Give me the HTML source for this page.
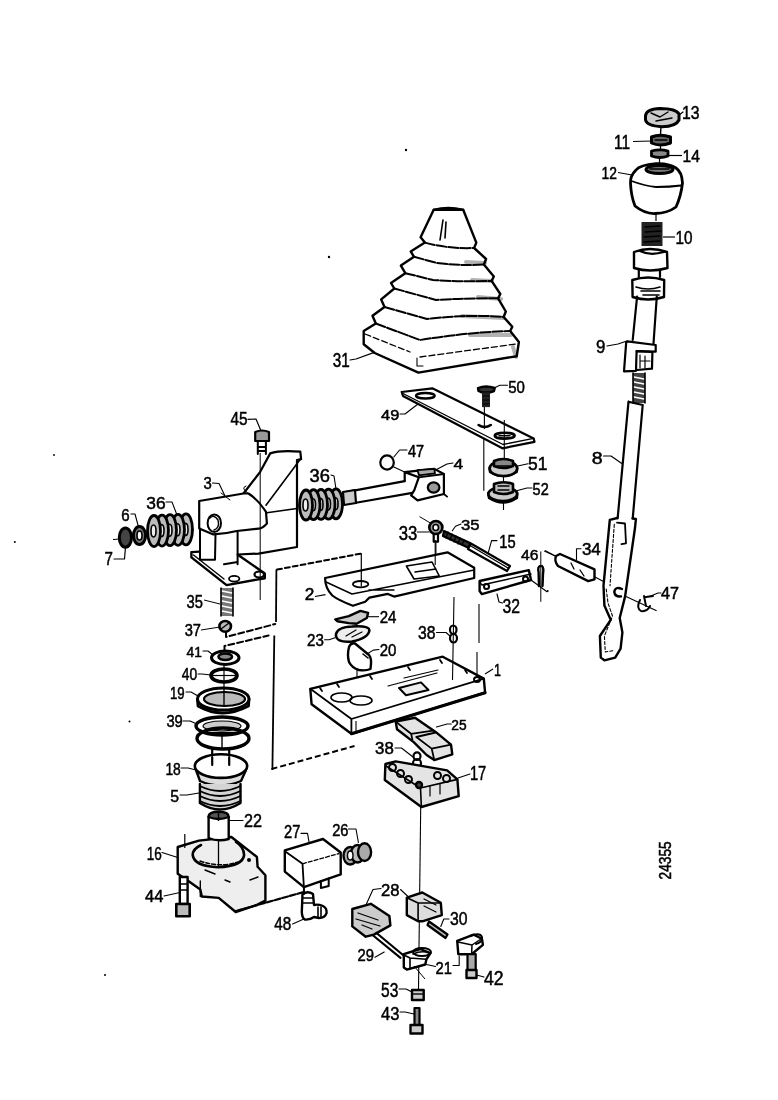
<!DOCTYPE html>
<html><head><meta charset="utf-8"><style>
html,body{margin:0;padding:0;background:#fff;}
svg{display:block;will-change:transform;}
text{font-family:"Liberation Sans",sans-serif;font-weight:normal;fill:#000;stroke:#000;stroke-width:0.5px;}
</style></head><body>
<svg width="778" height="1100" viewBox="0 0 778 1100">
<rect width="778" height="1100" fill="#fff"/>
<path d="M645.5,116 Q646,109 660,108.5 Q676,108.5 679,114 L679,120 Q676,126.5 662,126.7 Q647,126 645.5,120 Z" fill="#ccc" stroke="#000" stroke-width="3" stroke-linejoin="round" stroke-linecap="round" />
<path d="M651,113 L660,117 L668,112 M656,121 L672,118" fill="none" stroke="#000" stroke-width="1.4" stroke-linejoin="round" stroke-linecap="round" />
<text x="682.0" y="119.0" font-size="17.8" textLength="17.5" lengthAdjust="spacingAndGlyphs">13</text>
<path d="M679,115 L683,112" fill="none" stroke="#000" stroke-width="1.2" stroke-linejoin="round" stroke-linecap="round" />
<line x1="661" y1="126" x2="660.5" y2="135" stroke="#000" stroke-width="1.4"/>
<path d="M651.5,137 Q660,133.5 670.5,137 L670.5,143 Q660,147 651.5,143 Z" fill="#666" stroke="#000" stroke-width="3" stroke-linejoin="round" stroke-linecap="round" />
<path d="M655,140 L667,140" fill="none" stroke="#000" stroke-width="1.4" stroke-linejoin="round" stroke-linecap="round" stroke="#fff"/>
<text x="614.0" y="149.4" font-size="19.3" textLength="16.0" lengthAdjust="spacingAndGlyphs">11</text>
<line x1="633" y1="141.5" x2="652" y2="141" stroke="#000" stroke-width="1.2"/>
<line x1="660.5" y1="145.5" x2="660.5" y2="150" stroke="#000" stroke-width="1.2"/>
<path d="M651.5,151 Q660,148.8 668,151 L668,156 Q660,159 651.5,156 Z" fill="#888" stroke="#000" stroke-width="2.8" stroke-linejoin="round" stroke-linecap="round" />
<text x="682.6" y="162.2" font-size="17.1" textLength="17.4" lengthAdjust="spacingAndGlyphs">14</text>
<line x1="668" y1="155.5" x2="682" y2="155.5" stroke="#000" stroke-width="1.2"/>
<line x1="659.5" y1="158" x2="659.5" y2="164" stroke="#000" stroke-width="1.2"/>
<path d="M656,163.7 Q640,165 636,170 Q630,176 630.5,183 Q631,196 635,206 Q645,214 655,213.5 Q668,213 676,207 Q681,196 682.5,183 Q682,172 676,168 Q668,163 656,163.7 Z" fill="#fff" stroke="#000" stroke-width="2.8" stroke-linejoin="round" stroke-linecap="round" />
<path d="M631.5,181 Q645,186 656,187 Q670,187 681,185.5" fill="none" stroke="#000" stroke-width="1.8" stroke-linejoin="round" stroke-linecap="round" />
<ellipse cx="659.5" cy="169.5" rx="13.5" ry="4.0" fill="#777" stroke="#000" stroke-width="3"/>
<path d="M650,169 L669,169" fill="none" stroke="#000" stroke-width="1.5" stroke-linejoin="round" stroke-linecap="round" stroke="#fff"/>
<text x="601.6" y="178.7" font-size="17.1" textLength="15.4" lengthAdjust="spacingAndGlyphs">12</text>
<line x1="618" y1="172.5" x2="632" y2="175" stroke="#000" stroke-width="1.2"/>
<line x1="656" y1="213" x2="656" y2="221" stroke="#000" stroke-width="1.2"/>
<rect x="641.5" y="222" width="21" height="24" fill="#222"/>
<path d="M645,227 L660,226 M645,232 L661,231 M644,237 L660,236 M644,242 L660,241" fill="none" stroke="#000" stroke-width="1.4" stroke-linejoin="round" stroke-linecap="round" stroke="#fff"/>
<text x="675.6" y="244.0" font-size="18.1" textLength="17.0" lengthAdjust="spacingAndGlyphs">10</text>
<line x1="663" y1="237" x2="675" y2="237" stroke="#000" stroke-width="1.2"/>
<path d="M634,252 Q650,246 667,252 L667.5,268 Q650,273 634,268 Z" fill="#fff" stroke="#000" stroke-width="2.4" stroke-linejoin="round" stroke-linecap="round" />
<path d="M640,251 Q650,256 664,252" fill="none" stroke="#000" stroke-width="2.2" stroke-linejoin="round" stroke-linecap="round" />
<path d="M638.8,270.6 L638.8,277 M660,270.6 L660,277" fill="none" stroke="#000" stroke-width="2.2" stroke-linejoin="round" stroke-linecap="round" />
<path d="M632.3,280 Q648,275 664.2,280 L664,297 Q648,302 632.6,297 Z" fill="#fff" stroke="#000" stroke-width="2.4" stroke-linejoin="round" stroke-linecap="round" />
<path d="M636,287 Q648,291 660,287 M641,291 L660,291 M643,295 L659,295" fill="none" stroke="#000" stroke-width="1.6" stroke-linejoin="round" stroke-linecap="round" />
<path d="M637.1,296.5 L632.7,340 M656.8,296.5 L653.5,343.5" fill="none" stroke="#000" stroke-width="2.2" stroke-linejoin="round" stroke-linecap="round" />
<path d="M627.3,341.3 L655.7,345 L655.7,351.7 L636.6,351.1 M627.3,341.3 L626.2,342.4" fill="none" stroke="#000" stroke-width="2.2" stroke-linejoin="round" stroke-linecap="round" />
<path d="M626.2,342.4 L624,371.3 L636,370.8 L636.6,351.1 M636.6,351.1 L652.4,352 L652,368.6 L637,370" fill="none" stroke="#000" stroke-width="2.2" stroke-linejoin="round" stroke-linecap="round" />
<path d="M640,355 L640,368 M645,356 L645,368 M640,361 L650,361" fill="none" stroke="#000" stroke-width="1.2" stroke-linejoin="round" stroke-linecap="round" />
<text x="596.0" y="353.0" font-size="18.1" textLength="9.4" lengthAdjust="spacingAndGlyphs">9</text>
<path d="M607,346 L618,344 L627,341" fill="none" stroke="#000" stroke-width="1.2" stroke-linejoin="round" stroke-linecap="round" />
<rect x="633" y="373" width="12" height="30" fill="#444"/>
<path d="M634,377 L644,379 M634,382 L644,384 M634,387 L644,389 M634,392 L644,394 M634,397 L644,399" fill="none" stroke="#fff" stroke-width="1.5" stroke-opacity="1" stroke-linecap="round"/>
<path d="M633,373 L633,403 M645,373 L645,403" fill="none" stroke="#000" stroke-width="1.6" stroke-linejoin="round" stroke-linecap="round" />
<path d="M628.5,401.7 L617.6,518.7 M642.7,405 L632.7,518.7 M628.5,401.7 L642.7,405" fill="none" stroke="#000" stroke-width="2.2" stroke-linejoin="round" stroke-linecap="round" />
<text x="591.7" y="463.5" font-size="17.4" textLength="10.9" lengthAdjust="spacingAndGlyphs">8</text>
<path d="M603.5,456 L611,456 L621.8,463.5" fill="none" stroke="#000" stroke-width="1.2" stroke-linejoin="round" stroke-linecap="round" />
<path d="M609.8,519.9 L603.5,585.6 L604.4,605.4 L610.7,619.8 L599.9,636 L600.8,657.6 L604.4,660.3 L615.2,657.6 L620.6,648.6 L622.4,632.4 L619.7,618 L625.1,596.4 L635,528 L635.9,519 L632.5,518.5 M609.8,519.9 L617.2,518" fill="#fff" stroke="#000" stroke-width="2.4" stroke-linejoin="round" stroke-linecap="round" />
<path d="M617,522.6 L625,523.5 L626,543.3 L621.5,544.2" fill="none" stroke="#000" stroke-width="1.8" stroke-linejoin="round" stroke-linecap="round" />
<path d="M614.3,524.4 L610,585.6 M606.2,589 L608,603 L612.5,616 L604.4,636 L605.3,652 L614.3,650.4" fill="none" stroke="#000" stroke-width="1.1" stroke-linejoin="round" stroke-linecap="round" stroke-dasharray="3,2"/>
<path d="M622,589 Q615,586 614.3,592 Q615,597 621,596.4" fill="none" stroke="#000" stroke-width="2.4" stroke-linejoin="round" stroke-linecap="round" />
<line x1="545" y1="550.5" x2="604.4" y2="582" stroke="#000" stroke-width="1.1"/>
<line x1="626" y1="596.4" x2="656.6" y2="610.8" stroke="#000" stroke-width="1.1"/>
<path d="M640,600 Q636,608 641,611 Q647,612 650,606 M644,596 L646,606 M646,597 L653,596" fill="none" stroke="#000" stroke-width="2" stroke-linejoin="round" stroke-linecap="round" />
<text x="661.0" y="599.0" font-size="16.1" textLength="18.0" lengthAdjust="spacingAndGlyphs">47</text>
<path d="M649.5,596.4 L658,593 L661,593" fill="none" stroke="#000" stroke-width="1.1" stroke-linejoin="round" stroke-linecap="round" />
<path d="M560,554 L594.5,569.4 L594.5,579.3 L588.2,581.1 L558,566 Q554,561 556,556 Z" fill="#fff" stroke="#000" stroke-width="2.4" stroke-linejoin="round" stroke-linecap="round" />
<path d="M580,570 L584,576 M571,563 L574,569" fill="none" stroke="#000" stroke-width="1.3" stroke-linejoin="round" stroke-linecap="round" />
<text x="581.9" y="555.0" font-size="16.3" textLength="18.9" lengthAdjust="spacingAndGlyphs">34</text>
<path d="M581,548.7 L576.5,548.7 L576.5,559.5" fill="none" stroke="#000" stroke-width="1.1" stroke-linejoin="round" stroke-linecap="round" />
<circle cx="547.7" cy="591" r="1"/>
<polygon points="433.7,209.8 420.6,237.2 424.9,242.6 410.7,251.4 414.0,256.8 400.9,265.6 405.3,273.2 391.0,283.0 394.3,288.5 381.2,299.4 384.5,307.0 372.5,315.8 375.8,323.5 363.7,331.0 363.7,344.2 374.7,353.0 418.4,372.6 516.7,356.2 518.9,342.0 510.2,331.0 512.3,326.7 503.6,317.0 505.8,311.5 498.1,298.3 500.3,294.0 491.6,280.9 493.8,276.5 483.9,264.5 486.1,259.0 474.1,248.0 476.3,242.6 463.2,209.8" fill="#fff" stroke="#000" stroke-width="2.4" stroke-linejoin="round"/>
<path d="M433.7,209.8 Q448,206 463.2,209.8" fill="none" stroke="#000" stroke-width="2.2" stroke-linejoin="round" stroke-linecap="round" />
<path d="M424.9,242.6 Q448,249 474.1,248" fill="none" stroke="#000" stroke-width="2" stroke-linejoin="round" stroke-linecap="round" stroke-dasharray="10,2"/>
<path d="M414,256.8 L437,263 Q460,266 483.9,264.5" fill="none" stroke="#000" stroke-width="2" stroke-linejoin="round" stroke-linecap="round" stroke-dasharray="10,2"/>
<path d="M405.3,273.2 L433,280 Q462,282 491.6,280.9" fill="none" stroke="#000" stroke-width="2" stroke-linejoin="round" stroke-linecap="round" stroke-dasharray="10,2"/>
<path d="M394.3,288.5 L436,300 Q470,298 498.1,298.3" fill="none" stroke="#000" stroke-width="2" stroke-linejoin="round" stroke-linecap="round" stroke-dasharray="10,2"/>
<path d="M384.5,307 L427,319 Q470,314 503.6,317" fill="none" stroke="#000" stroke-width="2" stroke-linejoin="round" stroke-linecap="round" stroke-dasharray="10,2"/>
<path d="M375.8,323.5 L420,340 Q470,332 510.2,331" fill="none" stroke="#000" stroke-width="2" stroke-linejoin="round" stroke-linecap="round" stroke-dasharray="10,2"/>
<path d="M365,334 L410,352 M420,357 L516,344" fill="none" stroke="#000" stroke-width="1.3" stroke-linejoin="round" stroke-linecap="round" stroke-dasharray="6,3"/>
<path d="M417,358 L417,366 L423,366" fill="none" stroke="#000" stroke-width="1.1" stroke-linejoin="round" stroke-linecap="round" />
<path d="M443,220 L440,240 M446,222 L445,238" fill="none" stroke="#000" stroke-width="1.6" stroke-linejoin="round" stroke-linecap="round" />
<path d="M478,297 L501,299 M462,316 L504,318 M470,335 L511,335 M513,347 L516,357 M466,262 L485,263 M472,280 L492,281" fill="none" stroke="#000" stroke-width="4" stroke-opacity="0.3" stroke-linecap="round"/>
<text x="332.7" y="366.8" font-size="19.7" textLength="17.0" lengthAdjust="spacingAndGlyphs">31</text>
<path d="M350,360 L356,359 L374.3,352.4" fill="none" stroke="#000" stroke-width="1.2" stroke-linejoin="round" stroke-linecap="round" />
<circle cx="406" cy="150" r="1.2"/><circle cx="329" cy="257" r="1.2"/><circle cx="14.8" cy="542" r="1"/><circle cx="54" cy="455" r="0.9"/><circle cx="105" cy="975" r="1"/><circle cx="129.5" cy="721.6" r="1"/>
<path d="M401.7,392 L432.3,388.3 L533.6,438.4 L534.5,441.8 L502.4,448.3 L403,396 Z" fill="#fff" stroke="#000" stroke-width="2.2" stroke-linejoin="round" stroke-linecap="round" />
<path d="M403,393.5 L503,444.5 L533.6,438.4" fill="none" stroke="#000" stroke-width="1.4" stroke-linejoin="round" stroke-linecap="round" />
<ellipse cx="425.35" cy="395.75" rx="9.349999999999994" ry="2.75" fill="none" stroke="#000" stroke-width="2.4"/>
<path d="M478.6,425 Q484.5,429 490.8,425" fill="none" stroke="#000" stroke-width="2.6" stroke-linejoin="round" stroke-linecap="round" />
<ellipse cx="504.65" cy="435.70000000000005" rx="9.950000000000017" ry="2.9000000000000057" fill="none" stroke="#000" stroke-width="2.6"/>
<path d="M499,435.7 L510,435.7" fill="none" stroke="#000" stroke-width="1.4" stroke-linejoin="round" stroke-linecap="round" />
<text x="381.0" y="420.0" font-size="15.3" textLength="18.3" lengthAdjust="spacingAndGlyphs">49</text>
<path d="M400,414 L405,414 L418,404" fill="none" stroke="#000" stroke-width="1.1" stroke-linejoin="round" stroke-linecap="round" />
<path d="M478,388 Q486,385 494.7,388 L494,391 L490.2,392.4 L481.9,392.4 L478.5,391 Z" fill="#333" stroke="#000" stroke-width="2.4" stroke-linejoin="round" stroke-linecap="round" />
<rect x="482" y="392.4" width="8" height="14.7" fill="#222"/>
<path d="M483,396 L489,396 M483,400 L489,400 M483,404 L489,404" fill="none" stroke="#000" stroke-width="1.2" stroke-linejoin="round" stroke-linecap="round" stroke="#fff"/>
<text x="508.2" y="393.0" font-size="16.9" textLength="16.7" lengthAdjust="spacingAndGlyphs">50</text>
<path d="M494.7,387.8 L499.8,385.3 L507.5,385.3" fill="none" stroke="#000" stroke-width="1.1" stroke-linejoin="round" stroke-linecap="round" />
<line x1="484.4" y1="407" x2="484.4" y2="429" stroke="#000" stroke-width="1.1"/>
<line x1="483.8" y1="439" x2="483.8" y2="490.7" stroke="#000" stroke-width="1.1"/>
<line x1="504.3" y1="420" x2="504.3" y2="458.5" stroke="#000" stroke-width="1.1"/>
<path d="M489.6,468 L490,472 Q503,480 516.8,472 L517.2,468" fill="#aaa" stroke="#000" stroke-width="2.4" stroke-linejoin="round" stroke-linecap="round" />
<ellipse cx="503.40000000000003" cy="468.5" rx="13.800000000000011" ry="7.5" fill="#ccc" stroke="#000" stroke-width="2.6"/>
<path d="M494,466 L494,461 Q503,457 513,461 L513,466 Q503,470 494,466 Z" fill="#888" stroke="#000" stroke-width="2.6" stroke-linejoin="round" stroke-linecap="round" />
<path d="M497,466 L510,466" fill="none" stroke="#000" stroke-width="1.6" stroke-linejoin="round" stroke-linecap="round" />
<text x="528.0" y="469.5" font-size="17.9" textLength="19.4" lengthAdjust="spacingAndGlyphs">51</text>
<path d="M516.6,466.3 L528,463.7" fill="none" stroke="#000" stroke-width="1.1" stroke-linejoin="round" stroke-linecap="round" />
<line x1="503.5" y1="476" x2="503.5" y2="482" stroke="#000" stroke-width="1.1"/>
<path d="M488.3,493 L489,498 Q503,507 517,498 L517.2,493" fill="#aaa" stroke="#000" stroke-width="2.4" stroke-linejoin="round" stroke-linecap="round" />
<ellipse cx="502.75" cy="494.0" rx="14.450000000000017" ry="7.0" fill="#ccc" stroke="#000" stroke-width="2.6"/>
<path d="M494,492 L494,484 Q503,480.5 513,484 L513,492 Q503,496 494,492 Z" fill="#bbb" stroke="#000" stroke-width="2.6" stroke-linejoin="round" stroke-linecap="round" />
<path d="M498,486 L509,486 M498,490 L509,490" fill="none" stroke="#000" stroke-width="1.3" stroke-linejoin="round" stroke-linecap="round" />
<text x="532.6" y="495.2" font-size="16.9" textLength="16.1" lengthAdjust="spacingAndGlyphs">52</text>
<path d="M516.6,490.7 L527,488 L532,488" fill="none" stroke="#000" stroke-width="1.1" stroke-linejoin="round" stroke-linecap="round" />
<line x1="503.5" y1="501" x2="503.5" y2="510" stroke="#000" stroke-width="1.1"/>
<path d="M343,492.7 L404.7,481.1 M354.5,503 L413.7,492.7" fill="none" stroke="#000" stroke-width="2.2" stroke-linejoin="round" stroke-linecap="round" />
<path d="M343,492 L355,490 L356,503 L344,505 Z" fill="#ccc" stroke="#000" stroke-width="2.2" stroke-linejoin="round" stroke-linecap="round" />
<path d="M404.7,472.1 L434.3,468.9 L443.9,474 L443.9,494 L417.6,500.4 L411.1,495.3 L414.3,490.1 L418.8,477.3 Z M404.7,472.1 L404.7,481.1" fill="#fff" stroke="#000" stroke-width="2.2" stroke-linejoin="round" stroke-linecap="round" />
<path d="M443.9,494 L447.1,496.6 M418.8,477.3 L443.9,474" fill="none" stroke="#000" stroke-width="1.8" stroke-linejoin="round" stroke-linecap="round" />
<path d="M417.5,470.2 L434.3,468.9 L435,473.4 L419,475.3 Z" fill="#aaa" stroke="#000" stroke-width="1.8" stroke-linejoin="round" stroke-linecap="round" />
<ellipse cx="433.6" cy="487.54999999999995" rx="5.799999999999983" ry="5.150000000000006" fill="#999" stroke="#000" stroke-width="2.2"/>
<path d="M393.8,467 L404.7,472.1" fill="none" stroke="#000" stroke-width="1.1" stroke-linejoin="round" stroke-linecap="round" />
<ellipse cx="387.05" cy="462.5" rx="6.75" ry="7.100000000000023" fill="none" stroke="#000" stroke-width="2.2"/>
<text x="407.9" y="457.4" font-size="16.1" textLength="16.1" lengthAdjust="spacingAndGlyphs">47</text>
<path d="M407,450 L399.6,450 L393.8,457" fill="none" stroke="#000" stroke-width="1.1" stroke-linejoin="round" stroke-linecap="round" />
<text x="453.5" y="469.0" font-size="15.3" textLength="9.7" lengthAdjust="spacingAndGlyphs">4</text>
<path d="M435.6,470 L447,464 L453,463" fill="none" stroke="#000" stroke-width="1.1" stroke-linejoin="round" stroke-linecap="round" />
<ellipse cx="336.0" cy="503.8" rx="6.5" ry="15" fill="#bbb" stroke="#000" stroke-width="2.8"/>
<ellipse cx="335.5" cy="503.8" rx="2.5" ry="6" fill="#eee" stroke="#000" stroke-width="1.6"/>
<ellipse cx="328.5" cy="504.1" rx="6.5" ry="15" fill="#bbb" stroke="#000" stroke-width="2.8"/>
<ellipse cx="328.0" cy="504.1" rx="2.5" ry="6" fill="#eee" stroke="#000" stroke-width="1.6"/>
<ellipse cx="321.0" cy="504.4" rx="6.5" ry="15" fill="#bbb" stroke="#000" stroke-width="2.8"/>
<ellipse cx="320.5" cy="504.4" rx="2.5" ry="6" fill="#eee" stroke="#000" stroke-width="1.6"/>
<ellipse cx="313.5" cy="504.7" rx="6.5" ry="15" fill="#bbb" stroke="#000" stroke-width="2.8"/>
<ellipse cx="313.0" cy="504.7" rx="2.5" ry="6" fill="#eee" stroke="#000" stroke-width="1.6"/>
<ellipse cx="306.0" cy="505.0" rx="6.5" ry="15" fill="#bbb" stroke="#000" stroke-width="2.8"/>
<ellipse cx="305.5" cy="505.0" rx="2.5" ry="6" fill="#eee" stroke="#000" stroke-width="1.6"/>
<text x="309.6" y="482.4" font-size="17.8" textLength="20.4" lengthAdjust="spacingAndGlyphs">36</text>
<path d="M331,475 L334,476 L336,489" fill="none" stroke="#000" stroke-width="1.1" stroke-linejoin="round" stroke-linecap="round" />
<path d="M243.5,493.5 L260.2,471.8 L270.2,453.4 Q280,450 300.3,451.7 L301.1,459.2 L297,460 L297,547 L258.5,553.6 L237.6,554.5" fill="#fff" stroke="#000" stroke-width="2.2" stroke-linejoin="round" stroke-linecap="round" />
<path d="M300.3,459.2 L266,505.2 M266.9,512.7 L297,508.5" fill="none" stroke="#000" stroke-width="1.6" stroke-linejoin="round" stroke-linecap="round" />
<path d="M199.2,501 L243.5,493.5 L248.5,493.5 Q258.5,500 266,511.9 L266.9,523.6 Q262,529 258.5,528.6 L236.8,531 Q225,534 213.4,534.4 L199.2,528.6 Z" fill="#fff" stroke="#000" stroke-width="2.2" stroke-linejoin="round" stroke-linecap="round" />
<path d="M248.5,493.5 Q240,488 246,486 M221,493 L230,500" fill="none" stroke="#000" stroke-width="1.0" stroke-linejoin="round" stroke-linecap="round" />
<ellipse cx="214.3" cy="523.2" rx="6.700000000000003" ry="8.800000000000011" fill="none" stroke="#000" stroke-width="2"/>
<path d="M210,518 Q214,514 218,520 Q220,528 214,530" fill="none" stroke="#000" stroke-width="1.4" stroke-linejoin="round" stroke-linecap="round" />
<path d="M200,528.6 L200,559.7 M215.5,534 L215,559.7 M237.6,532 L237.6,564.3 M200,559.7 L215,559.7 M224,564.3 L237.6,562" fill="none" stroke="#000" stroke-width="2" stroke-linejoin="round" stroke-linecap="round" />
<path d="M191.4,552.1 L199.5,551.6 M191.4,552.1 L191.4,557.4 L226.6,585.1 L264.8,578.2 L264.8,573.5 L238.2,555" fill="none" stroke="#000" stroke-width="2.4" stroke-linejoin="round" stroke-linecap="round" />
<path d="M193.5,555 L224,579" fill="none" stroke="#000" stroke-width="1.4" stroke-linejoin="round" stroke-linecap="round" />
<ellipse cx="234.2" cy="578.75" rx="5.200000000000003" ry="2.8500000000000227" fill="none" stroke="#000" stroke-width="1.8"/>
<ellipse cx="259.25" cy="574.5" rx="4.75" ry="3.0" fill="none" stroke="#000" stroke-width="2.2"/>
<line x1="260.2" y1="453" x2="260.2" y2="600" stroke="#000" stroke-width="1"/>
<path d="M255.2,432 Q262,429 269,432 L269,441 L255.2,441 Z" fill="#999" stroke="#000" stroke-width="2.2" stroke-linejoin="round" stroke-linecap="round" />
<path d="M257.8,441 L257.8,454 M265.9,441 L265.9,454 M257.8,447 L265.9,447 M257.8,451 L265.9,451" fill="none" stroke="#000" stroke-width="2" stroke-linejoin="round" stroke-linecap="round" />
<text x="230.4" y="425.2" font-size="18.1" textLength="17.1" lengthAdjust="spacingAndGlyphs">45</text>
<path d="M248,419.4 L256,419 L260.5,429.7" fill="none" stroke="#000" stroke-width="1.2" stroke-linejoin="round" stroke-linecap="round" />
<text x="203.4" y="489.3" font-size="16.2" textLength="8.3" lengthAdjust="spacingAndGlyphs">3</text>
<path d="M212.5,483 L219,483.5 L225,496" fill="none" stroke="#000" stroke-width="1.1" stroke-linejoin="round" stroke-linecap="round" />
<ellipse cx="186" cy="529.4" rx="6.5" ry="15.5" fill="#bbb" stroke="#000" stroke-width="2.8"/>
<ellipse cx="185.5" cy="529.4" rx="2.5" ry="6" fill="#eee" stroke="#000" stroke-width="1.6"/>
<ellipse cx="178" cy="529.8" rx="6.5" ry="15.5" fill="#bbb" stroke="#000" stroke-width="2.8"/>
<ellipse cx="177.5" cy="529.8" rx="2.5" ry="6" fill="#eee" stroke="#000" stroke-width="1.6"/>
<ellipse cx="170" cy="530.2" rx="6.5" ry="15.5" fill="#bbb" stroke="#000" stroke-width="2.8"/>
<ellipse cx="169.5" cy="530.2" rx="2.5" ry="6" fill="#eee" stroke="#000" stroke-width="1.6"/>
<ellipse cx="162" cy="530.6" rx="6.5" ry="15.5" fill="#bbb" stroke="#000" stroke-width="2.8"/>
<ellipse cx="161.5" cy="530.6" rx="2.5" ry="6" fill="#eee" stroke="#000" stroke-width="1.6"/>
<ellipse cx="154" cy="531.0" rx="6.5" ry="15.5" fill="#bbb" stroke="#000" stroke-width="2.8"/>
<ellipse cx="153.5" cy="531.0" rx="2.5" ry="6" fill="#eee" stroke="#000" stroke-width="1.6"/>
<text x="146.3" y="509.3" font-size="16.1" textLength="19.3" lengthAdjust="spacingAndGlyphs">36</text>
<path d="M166,502 L172,502 L177,515" fill="none" stroke="#000" stroke-width="1.1" stroke-linejoin="round" stroke-linecap="round" />
<line x1="113" y1="539.5" x2="120" y2="539" stroke="#000" stroke-width="1"/>
<line x1="145.5" y1="535" x2="148" y2="535" stroke="#000" stroke-width="1"/>
<ellipse cx="139.5" cy="535.6" rx="6.099999999999994" ry="9.0" fill="#777" stroke="#000" stroke-width="3"/>
<ellipse cx="139.5" cy="535.5" rx="2.5" ry="4.5" fill="#fff" stroke="#000" stroke-width="1.6"/>
<text x="121.2" y="520.8" font-size="16.9" textLength="8.4" lengthAdjust="spacingAndGlyphs">6</text>
<path d="M131,514 L135,514 L138.5,527" fill="none" stroke="#000" stroke-width="1.1" stroke-linejoin="round" stroke-linecap="round" />
<ellipse cx="125.4" cy="537.6" rx="6.100000000000001" ry="9.600000000000023" fill="#444" stroke="#000" stroke-width="3"/>
<text x="104.5" y="564.6" font-size="17.9" textLength="8.4" lengthAdjust="spacingAndGlyphs">7</text>
<path d="M114,559 L124.5,559 L125.5,547" fill="none" stroke="#000" stroke-width="1.2" stroke-linejoin="round" stroke-linecap="round" />
<ellipse cx="435.85" cy="527.5" rx="6.549999999999983" ry="6.5" fill="#999" stroke="#000" stroke-width="2.6"/>
<ellipse cx="435.75" cy="527.5" rx="2.75" ry="3.0" fill="#fff" stroke="#000" stroke-width="1.6"/>
<path d="M433.7,534 L433.7,541.7 L438,541.7 L438,534" fill="none" stroke="#000" stroke-width="2.2" stroke-linejoin="round" stroke-linecap="round" />
<text x="398.7" y="539.5" font-size="19.7" textLength="18.6" lengthAdjust="spacingAndGlyphs">33</text>
<path d="M417.3,532 L429,532" fill="none" stroke="#000" stroke-width="1.1" stroke-linejoin="round" stroke-linecap="round" />
<line x1="419.5" y1="516.6" x2="430.4" y2="523" stroke="#000" stroke-width="1"/>
<line x1="435.9" y1="541.7" x2="435.9" y2="564.6" stroke="#000" stroke-width="1.1"/>
<path d="M444,531 L470,543 L469,548 L443,536 Z" fill="#333" stroke="#000" stroke-width="2.2" stroke-linejoin="round" stroke-linecap="round" />
<path d="M448,532 L446,538 M452,534 L450,540 M456,536 L454,542 M460,538 L458,544 M464,540 L462,545" fill="none" stroke="#000" stroke-width="1.3" stroke-linejoin="round" stroke-linecap="round" stroke="#fff"/>
<text x="461.0" y="529.7" font-size="15.3" textLength="18.6" lengthAdjust="spacingAndGlyphs">35</text>
<path d="M461,524 L455.5,526.3 L452.3,530.8" fill="none" stroke="#000" stroke-width="1.1" stroke-linejoin="round" stroke-linecap="round" />
<path d="M470.9,543.5 L510,566 L507,571 L468,549 Z" fill="#fff" stroke="#000" stroke-width="2.2" stroke-linejoin="round" stroke-linecap="round" />
<path d="M470.9,546 L508,568" fill="none" stroke="#000" stroke-width="1.4" stroke-linejoin="round" stroke-linecap="round" />
<text x="499.3" y="548.2" font-size="18.3" textLength="16.4" lengthAdjust="spacingAndGlyphs">15</text>
<path d="M497,540.6 L491.6,540.6 L488.3,552.6" fill="none" stroke="#000" stroke-width="1.1" stroke-linejoin="round" stroke-linecap="round" />
<path d="M479.6,581 L528.8,570.1 L531,580 L481.8,594.1 L479.6,591 Z" fill="#fff" stroke="#000" stroke-width="2.4" stroke-linejoin="round" stroke-linecap="round" />
<path d="M479.6,581 L481.8,585 L531,574" fill="none" stroke="#000" stroke-width="1.4" stroke-linejoin="round" stroke-linecap="round" />
<ellipse cx="486.5" cy="586.5" rx="2.5" ry="2.5" fill="none" stroke="#000" stroke-width="2"/>
<ellipse cx="525.5" cy="579.0" rx="2.5" ry="2.5" fill="none" stroke="#000" stroke-width="2"/>
<text x="502.5" y="612.7" font-size="19.7" textLength="17.5" lengthAdjust="spacingAndGlyphs">32</text>
<path d="M497,594 L499,602 L502.5,603" fill="none" stroke="#000" stroke-width="1.1" stroke-linejoin="round" stroke-linecap="round" />
<path d="M540,566 Q537.5,567 538.6,572 L539,586 M542,566 Q544,568 543,574 L542.5,586" fill="none" stroke="#000" stroke-width="2.4" stroke-linejoin="round" stroke-linecap="round" />
<line x1="540.8" y1="551.5" x2="540.8" y2="601.8" stroke="#000" stroke-width="1"/>
<text x="521.1" y="560.3" font-size="15.3" textLength="17.5" lengthAdjust="spacingAndGlyphs">46</text>
<line x1="531" y1="580" x2="547.3" y2="592" stroke="#000" stroke-width="1.1"/>
<line x1="544" y1="551" x2="555" y2="556" stroke="#000" stroke-width="1"/>
<path d="M325.1,578 L447.5,552.3 L474.2,567.8 L474.2,578 L394,596.6 L387.9,593.9 L369.4,597.6 L365.2,601.7 L352.9,605.8 Q338,600 332.3,595.5 Q325,588 325.1,578 Z" fill="#fff" stroke="#000" stroke-width="2.2" stroke-linejoin="round" stroke-linecap="round" />
<path d="M326,582 L352,594 L474.2,570 M369,590 L394,590" fill="none" stroke="#000" stroke-width="1.4" stroke-linejoin="round" stroke-linecap="round" />
<ellipse cx="360.6" cy="584.15" rx="7.700000000000017" ry="3.1499999999999773" fill="none" stroke="#000" stroke-width="1.8"/>
<path d="M406.4,566 L432,562 L439.3,576 L414,579 Z M415,572 L436,569" fill="none" stroke="#000" stroke-width="1.6" stroke-linejoin="round" stroke-linecap="round" />
<text x="304.7" y="600.4" font-size="16.9" textLength="9.6" lengthAdjust="spacingAndGlyphs">2</text>
<line x1="315" y1="596.5" x2="325.5" y2="594.6" stroke="#000" stroke-width="1.1"/>
<path d="M361.3,553.5 L361.3,586" fill="none" stroke="#000" stroke-width="1.2" stroke-linejoin="round" stroke-linecap="round" />
<line x1="435.2" y1="540" x2="435.2" y2="565" stroke="#000" stroke-width="1.1"/>
<path d="M277,569.6 L361.3,553.5" fill="none" stroke="#000" stroke-width="2" stroke-linejoin="round" stroke-linecap="round" stroke-dasharray="5,3"/>
<line x1="276.4" y1="569.6" x2="276" y2="622" stroke="#000" stroke-width="1.8"/>
<path d="M335.3,619.3 L348.8,616.1 L360.4,610.9 L368.1,612.9 L366.8,618 L356.6,623.8 L348.8,623.1 L337.3,621.2 Z" fill="#ccc" stroke="#000" stroke-width="2.4" stroke-linejoin="round" stroke-linecap="round" />
<text x="379.7" y="623.1" font-size="16.9" textLength="16.7" lengthAdjust="spacingAndGlyphs">24</text>
<line x1="368" y1="616.7" x2="379" y2="616.7" stroke="#000" stroke-width="1.1"/>
<path d="M336,634 Q338,627 352,626.5 Q369,625.5 369.4,630 Q369,638 352,641.5 Q335,643 336,634 Z" fill="#eee" stroke="#000" stroke-width="2.6" stroke-linejoin="round" stroke-linecap="round" />
<path d="M346,636 L356,630 M352,637 L362,632" fill="none" stroke="#000" stroke-width="1.2" stroke-linejoin="round" stroke-linecap="round" />
<text x="307.0" y="645.6" font-size="16.9" textLength="16.8" lengthAdjust="spacingAndGlyphs">23</text>
<path d="M324.5,639.8 L329,639.8 L335,637.8" fill="none" stroke="#000" stroke-width="1.1" stroke-linejoin="round" stroke-linecap="round" />
<path d="M349,647 Q351,642.5 355,643.5 L369,655 Q371.5,658 371,664 L370.5,669 Q366,671 359,670 Q352,668 349,662 Q347,655 349,647 Z" fill="#fff" stroke="#000" stroke-width="2.4" stroke-linejoin="round" stroke-linecap="round" />
<path d="M363,654 L368,658" fill="none" stroke="#000" stroke-width="1.6" stroke-linejoin="round" stroke-linecap="round" />
<text x="379.7" y="655.9" font-size="16.9" textLength="16.7" lengthAdjust="spacingAndGlyphs">20</text>
<path d="M367,654 L373.3,650.1 L379,649.5" fill="none" stroke="#000" stroke-width="1.1" stroke-linejoin="round" stroke-linecap="round" />
<line x1="357" y1="670" x2="357" y2="707" stroke="#000" stroke-width="1.1"/>
<path d="M310.3,688.8 L442.7,656.7 L483.8,678.6 L485.1,692.7 L351.4,733.8 L311.6,704.3 Z" fill="#fff" stroke="#000" stroke-width="2.4" stroke-linejoin="round" stroke-linecap="round" />
<path d="M310.3,688.8 L351.4,719 L483.8,678.6 M351.4,719 L351.4,733.8" fill="none" stroke="#000" stroke-width="1.8" stroke-linejoin="round" stroke-linecap="round" />
<path d="M351.4,733.8 L485.1,692.7" fill="none" stroke="#000" stroke-width="3" stroke-linejoin="round" stroke-linecap="round" />
<path d="M399,688 L421,682.4 L428.5,690 L406,695.3 Z" fill="#eee" stroke="#000" stroke-width="2" stroke-linejoin="round" stroke-linecap="round" />
<path d="M388,686 L437,673 M404,678 L438,670" fill="none" stroke="#000" stroke-width="1.2" stroke-linejoin="round" stroke-linecap="round" />
<ellipse cx="341.5" cy="697.5" rx="10.5" ry="4.5" fill="none" stroke="#000" stroke-width="1.6"/>
<ellipse cx="361.0" cy="700.5" rx="11.0" ry="4.5" fill="none" stroke="#000" stroke-width="1.6"/>
<path d="M320,688 L322,691 M337,684 L339,687 M370,676 L372,679 M408,667 L410,670 M440,660 L442,663 M465,670 L467,673" fill="none" stroke="#000" stroke-width="1.8" stroke-linejoin="round" stroke-linecap="round" />
<ellipse cx="477.0" cy="679.5" rx="3.0" ry="2.5" fill="none" stroke="#000" stroke-width="2"/>
<text x="494.0" y="675.5" font-size="17.4" textLength="7.0" lengthAdjust="spacingAndGlyphs">1</text>
<line x1="485" y1="674" x2="493" y2="669" stroke="#000" stroke-width="1.1"/>
<ellipse cx="453.25" cy="629.75" rx="3.25" ry="4.25" fill="none" stroke="#000" stroke-width="2.2"/>
<ellipse cx="453.5" cy="638.25" rx="3.5" ry="4.25" fill="none" stroke="#000" stroke-width="2.2"/>
<text x="418.0" y="639.0" font-size="18.5" textLength="17.5" lengthAdjust="spacingAndGlyphs">38</text>
<path d="M436.5,632.5 L446,632.5 L450,636" fill="none" stroke="#000" stroke-width="1.1" stroke-linejoin="round" stroke-linecap="round" />
<line x1="454" y1="597" x2="452.5" y2="680" stroke="#000" stroke-width="1.1"/>
<line x1="479" y1="604" x2="479" y2="643" stroke="#000" stroke-width="1.1"/>
<line x1="477" y1="652" x2="477" y2="678" stroke="#000" stroke-width="1.1"/>
<rect x="221" y="588" width="12" height="28" fill="#777"/>
<path d="M222,591 L232,593 M222,596 L232,598 M222,601 L232,603 M222,606 L232,608 M222,611 L232,613" fill="none" stroke="#fff" stroke-width="1.6" stroke-opacity="1" stroke-linecap="round"/>
<path d="M221,588 L221,616 M233,588 L233,616" fill="none" stroke="#000" stroke-width="1.6" stroke-linejoin="round" stroke-linecap="round" />
<text x="186.6" y="607.6" font-size="18.9" textLength="16.4" lengthAdjust="spacingAndGlyphs">35</text>
<line x1="204" y1="600" x2="220" y2="604" stroke="#000" stroke-width="1"/>
<ellipse cx="225.2" cy="626.35" rx="5.799999999999997" ry="5.350000000000023" fill="#bbb" stroke="#000" stroke-width="2.6"/>
<line x1="221" y1="629" x2="229" y2="623" stroke="#000" stroke-width="1.4"/>
<text x="184.7" y="635.5" font-size="16.0" textLength="16.3" lengthAdjust="spacingAndGlyphs">37</text>
<line x1="201" y1="630" x2="220" y2="627" stroke="#000" stroke-width="1"/>
<path d="M226,631.7 L226,637 L275.3,624" fill="none" stroke="#000" stroke-width="2" stroke-linejoin="round" stroke-linecap="round" stroke-dasharray="6,3"/>
<path d="M224.5,651 L224.5,646 L268.6,635.5" fill="none" stroke="#000" stroke-width="2" stroke-linejoin="round" stroke-linecap="round" stroke-dasharray="6,3"/>
<line x1="274.3" y1="635.5" x2="272.4" y2="770" stroke="#000" stroke-width="1.8"/>
<line x1="271.5" y1="769" x2="354.5" y2="746" stroke="#000" stroke-width="2" stroke-dasharray="6,3"/>
<ellipse cx="225.25" cy="657.75" rx="13.75" ry="6.75" fill="#fff" stroke="#000" stroke-width="3"/>
<ellipse cx="225.25" cy="656.75" rx="6.75" ry="3.25" fill="#888" stroke="#000" stroke-width="2.6"/>
<text x="186.6" y="656.7" font-size="14.9" textLength="15.4" lengthAdjust="spacingAndGlyphs">41</text>
<path d="M203,651 L208,651 L213,655" fill="none" stroke="#000" stroke-width="1.1" stroke-linejoin="round" stroke-linecap="round" />
<ellipse cx="224.0" cy="675.5" rx="13.0" ry="6.5" fill="#fff" stroke="#000" stroke-width="3.6"/>
<line x1="213" y1="675.5" x2="235" y2="675.5" stroke="#000" stroke-width="1.2"/>
<text x="181.8" y="680.0" font-size="16.7" textLength="15.4" lengthAdjust="spacingAndGlyphs">40</text>
<path d="M198,674 L202,674 L211,675" fill="none" stroke="#000" stroke-width="1.1" stroke-linejoin="round" stroke-linecap="round" />
<line x1="224" y1="664" x2="224" y2="688" stroke="#000" stroke-width="1.2"/>
<path d="M197.5,699 L198,706 Q222,720 248.5,706 L249,699" fill="#fff" stroke="#000" stroke-width="2.8" stroke-linejoin="round" stroke-linecap="round" />
<ellipse cx="223.25" cy="699.0" rx="25.75" ry="11.0" fill="#fff" stroke="#000" stroke-width="3"/>
<ellipse cx="224.5" cy="699.0" rx="20.5" ry="7.0" fill="#bbb" stroke="#000" stroke-width="2.2"/>
<line x1="224" y1="688" x2="224" y2="706" stroke="#000" stroke-width="1.4"/>
<text x="170.0" y="699.3" font-size="16.1" textLength="14.7" lengthAdjust="spacingAndGlyphs">19</text>
<path d="M186,692 L191,692 L198,696" fill="none" stroke="#000" stroke-width="1.1" stroke-linejoin="round" stroke-linecap="round" />
<ellipse cx="222.0" cy="726.0" rx="26.0" ry="9.0" fill="#fff" stroke="#000" stroke-width="3.4"/>
<ellipse cx="222.0" cy="726.0" rx="19.0" ry="5.0" fill="#ccc" stroke="#000" stroke-width="1.2"/>
<ellipse cx="223.0" cy="738.5" rx="26.0" ry="10.5" fill="none" stroke="#000" stroke-width="3.4"/>
<path d="M210,733 L238,733" fill="none" stroke="#000" stroke-width="2.4" stroke-linejoin="round" stroke-linecap="round" />
<line x1="222" y1="735" x2="222" y2="749" stroke="#000" stroke-width="1.4"/>
<text x="166.4" y="727.2" font-size="17.4" textLength="16.4" lengthAdjust="spacingAndGlyphs">39</text>
<path d="M183,721 L190,721 L197,724" fill="none" stroke="#000" stroke-width="1.1" stroke-linejoin="round" stroke-linecap="round" />
<path d="M212.2,748 L212.2,765 M229.2,748 L229.2,765" fill="none" stroke="#000" stroke-width="2.2" stroke-linejoin="round" stroke-linecap="round" />
<path d="M196,770 L200,781 Q220,790 241,781 L246,770" fill="#ddd" stroke="#000" stroke-width="2.4" stroke-linejoin="round" stroke-linecap="round" />
<ellipse cx="221.0" cy="766.0999999999999" rx="26.19999999999999" ry="11.800000000000011" fill="#fff" stroke="#000" stroke-width="2.6"/>
<path d="M212.2,757 L212.2,765 M229.2,757 L229.2,765" fill="none" stroke="#000" stroke-width="2.2" stroke-linejoin="round" stroke-linecap="round" />
<text x="165.4" y="774.5" font-size="17.4" textLength="15.4" lengthAdjust="spacingAndGlyphs">18</text>
<path d="M181,768 L188,768 L196,770" fill="none" stroke="#000" stroke-width="1.1" stroke-linejoin="round" stroke-linecap="round" />
<path d="M199.9,784 L199.9,803 Q220,816 240.5,803 L240.5,784" fill="#d4d4d4" stroke="#000" stroke-width="2.4" stroke-linejoin="round" stroke-linecap="round" />
<path d="M199.9,786 Q220,796 240.5,786 M199.9,791 Q220,801 240.5,791 M199.9,796 Q220,806 240.5,796 M199.9,801 Q220,811 240.5,801" fill="none" stroke="#000" stroke-width="1.8" stroke-linejoin="round" stroke-linecap="round" />
<text x="170.2" y="801.5" font-size="17.4" textLength="8.8" lengthAdjust="spacingAndGlyphs">5</text>
<path d="M180,795 L187,795 L199,793" fill="none" stroke="#000" stroke-width="1.1" stroke-linejoin="round" stroke-linecap="round" />
<text x="244.1" y="827.3" font-size="17.9" textLength="18.0" lengthAdjust="spacingAndGlyphs">22</text>
<path d="M229.5,820.5 L243,820.5" fill="none" stroke="#000" stroke-width="1.1" stroke-linejoin="round" stroke-linecap="round" />
<path d="M177.7,847 L198.9,840.6 L231.4,837 L256.9,856.9 L257.6,866.8 L265.4,875.2 L265.4,900.7 L256.9,904.9 L235.7,912 L218.7,897.9 L201.8,896.5 L200.3,889.4 L186.2,879.5 L177.7,873.8 Z" fill="#eee" stroke="#000" stroke-width="2.4" stroke-linejoin="round" stroke-linecap="round" />
<path d="M201,845 Q192.7,849 192.7,855 Q194,866 218,867.2 Q243,866 244.1,855 Q244,847 236,842" fill="none" stroke="#000" stroke-width="2.6" stroke-linejoin="round" stroke-linecap="round" />
<path d="M208.6,817 L208.6,838 Q218,842 228.7,839 L228.7,817" fill="#fff" stroke="#000" stroke-width="2.4" stroke-linejoin="round" stroke-linecap="round" />
<path d="M208.6,817 Q208.5,811.8 218.5,811.8 Q228.7,811.8 228.7,817 Q218.5,821 208.6,817 Z" fill="#555" stroke="#000" stroke-width="2.4" stroke-linejoin="round" stroke-linecap="round" />
<line x1="218.5" y1="811.8" x2="218.5" y2="821" stroke="#000" stroke-width="1.4"/>
<path d="M200,861 Q220,868 238,862" fill="none" stroke="#000" stroke-width="1.4" stroke-linejoin="round" stroke-linecap="round" stroke-dasharray="4,2"/>
<line x1="218.5" y1="841" x2="218.5" y2="867" stroke="#000" stroke-width="1.3"/>
<path d="M200.3,881 L200.3,896.5 M205,870 L215,874 M225,880 L230,882 M250,880 L258,877" fill="none" stroke="#000" stroke-width="1.4" stroke-linejoin="round" stroke-linecap="round" />
<text x="146.7" y="860.2" font-size="18.6" textLength="15.1" lengthAdjust="spacingAndGlyphs">16</text>
<path d="M162,852.5 L177.7,857.6" fill="none" stroke="#000" stroke-width="1.1" stroke-linejoin="round" stroke-linecap="round" />
<line x1="184.8" y1="834" x2="184.8" y2="848" stroke="#000" stroke-width="1.2"/>
<circle cx="249" cy="860" r="2"/>
<path d="M179.8,877 L187.6,877 L187.6,904 L179.8,904 Z" fill="#fff" stroke="#000" stroke-width="2.4" stroke-linejoin="round" stroke-linecap="round" />
<path d="M180,884 L187,884 M180,890 L187,890" fill="none" stroke="#000" stroke-width="1.5" stroke-linejoin="round" stroke-linecap="round" />
<path d="M176.3,904 L189.7,904 L189.7,916.2 L176.3,916.2 Z" fill="#bbb" stroke="#000" stroke-width="2.6" stroke-linejoin="round" stroke-linecap="round" />
<text x="145.0" y="902.0" font-size="16.7" textLength="18.4" lengthAdjust="spacingAndGlyphs">44</text>
<path d="M164,896 L180,892.5" fill="none" stroke="#000" stroke-width="1.1" stroke-linejoin="round" stroke-linecap="round" />
<path d="M236,911 L303.9,892" fill="none" stroke="#000" stroke-width="2.2" stroke-linejoin="round" stroke-linecap="round" stroke-dasharray="6,2"/>
<path d="M284.8,850.3 L323,839 L340.7,852.5 L340.7,874.4 L303.9,887.1 L284.8,871.6 Z" fill="#fff" stroke="#000" stroke-width="2.4" stroke-linejoin="round" stroke-linecap="round" />
<path d="M286,852 L302.5,863.8 L303.9,887.1" fill="none" stroke="#000" stroke-width="1.8" stroke-linejoin="round" stroke-linecap="round" />
<path d="M302.5,863.8 L339,853.5" fill="none" stroke="#000" stroke-width="1.3" stroke-linejoin="round" stroke-linecap="round" stroke-dasharray="4,2"/>
<path d="M320.9,881 L320.9,888 L328.7,886 L328.7,878.5" fill="none" stroke="#000" stroke-width="2" stroke-linejoin="round" stroke-linecap="round" />
<text x="284.1" y="837.6" font-size="17.6" textLength="16.3" lengthAdjust="spacingAndGlyphs">27</text>
<path d="M301,833.4 L307.5,833.4 L309,841.8" fill="none" stroke="#000" stroke-width="1.1" stroke-linejoin="round" stroke-linecap="round" />
<ellipse cx="350.25" cy="855.75" rx="6.75" ry="8.75" fill="#aaa" stroke="#000" stroke-width="2.4"/>
<ellipse cx="357.5" cy="853.75" rx="6.5" ry="8.75" fill="#bbb" stroke="#000" stroke-width="2.4"/>
<ellipse cx="364.55" cy="852.15" rx="6.550000000000011" ry="8.850000000000023" fill="#aaa" stroke="#000" stroke-width="2.4"/>
<ellipse cx="350.25" cy="855.5" rx="2.75" ry="4.5" fill="#fff" stroke="#000" stroke-width="1.4"/>
<text x="332.2" y="836.2" font-size="15.7" textLength="16.3" lengthAdjust="spacingAndGlyphs">26</text>
<path d="M348.5,829 L356,829 L358.4,842.5" fill="none" stroke="#000" stroke-width="1.1" stroke-linejoin="round" stroke-linecap="round" />
<path d="M302.5,894 Q308,890.5 313,894 L314,905 Q318,904 323,906 Q327,908 326.6,913 Q325,918 319,918 L314,917 Q310,920 305,919.6 Q302,918 301.8,912 Z" fill="#fff" stroke="#000" stroke-width="2.4" stroke-linejoin="round" stroke-linecap="round" />
<path d="M303,898 L313,898 M303,903 L313,903 M318,907 L318,917 M321,907 L321,917" fill="none" stroke="#000" stroke-width="1.6" stroke-linejoin="round" stroke-linecap="round" />
<path d="M303.9,887 L304,894" fill="none" stroke="#000" stroke-width="2" stroke-linejoin="round" stroke-linecap="round" />
<text x="274.2" y="930.2" font-size="17.6" textLength="17.0" lengthAdjust="spacingAndGlyphs">48</text>
<path d="M292.6,924 L303.9,919" fill="none" stroke="#000" stroke-width="1.1" stroke-linejoin="round" stroke-linecap="round" />
<line x1="356" y1="721" x2="356" y2="734" stroke="#000" stroke-width="1.1"/>
<path d="M395.7,721.6 L415,717.7 L435.6,731.9 L451,744.7 L452.3,754.3 L434.3,760.1 L426.6,755 L413.7,742.1 L397,729.3 Z" fill="#e4e4e4" stroke="#000" stroke-width="2.4" stroke-linejoin="round" stroke-linecap="round" />
<path d="M395.7,721.6 L411.1,733.8 L433,730.6 M411.1,733.8 L412.4,739.6 M416.3,737 L435.6,732.5 M416.3,737 L431.7,748.6 L451,744.7 M431.7,748.6 L434.3,760.1" fill="none" stroke="#000" stroke-width="1.8" stroke-linejoin="round" stroke-linecap="round" />
<text x="451.3" y="729.5" font-size="15.1" textLength="15.3" lengthAdjust="spacingAndGlyphs">25</text>
<path d="M436.5,727 L447,724 L451.3,724" fill="none" stroke="#000" stroke-width="1.1" stroke-linejoin="round" stroke-linecap="round" />
<ellipse cx="417.0" cy="756.2" rx="3.5" ry="3.8000000000000114" fill="none" stroke="#000" stroke-width="2.2"/>
<ellipse cx="417.0" cy="763.4" rx="4.0" ry="4.399999999999977" fill="none" stroke="#000" stroke-width="2.2"/>
<text x="375.1" y="754.3" font-size="16.0" textLength="18.7" lengthAdjust="spacingAndGlyphs">38</text>
<path d="M395,748 L401.5,748 L413,757" fill="none" stroke="#000" stroke-width="1.1" stroke-linejoin="round" stroke-linecap="round" />
<path d="M385.4,764 L395.7,761.4 L447.1,770.4 L457.4,779.4 L458.7,796.1 L421.4,807 L384.8,780 Z" fill="#e4e4e4" stroke="#000" stroke-width="2.4" stroke-linejoin="round" stroke-linecap="round" />
<path d="M386,766 L420.5,788 L457.4,779.4 M420.5,788 L421.4,807" fill="none" stroke="#000" stroke-width="1.6" stroke-linejoin="round" stroke-linecap="round" />
<ellipse cx="392.5" cy="767.5" rx="3.5" ry="3.5" fill="none" stroke="#000" stroke-width="2"/>
<ellipse cx="400.5" cy="773.5" rx="3.5" ry="3.5" fill="none" stroke="#000" stroke-width="2"/>
<ellipse cx="408.5" cy="779.5" rx="3.5" ry="3.5" fill="none" stroke="#000" stroke-width="2"/>
<ellipse cx="419.0" cy="785.0" rx="3.0" ry="3.0" fill="#444" stroke="#000" stroke-width="2.4"/>
<ellipse cx="437.5" cy="775.5" rx="3.5" ry="3.5" fill="none" stroke="#000" stroke-width="2"/>
<ellipse cx="446.5" cy="778.5" rx="3.5" ry="3.5" fill="none" stroke="#000" stroke-width="2"/>
<path d="M430,786 L430,796 M440,784 L440,794" fill="none" stroke="#000" stroke-width="1.2" stroke-linejoin="round" stroke-linecap="round" />
<text x="469.9" y="779.8" font-size="19.7" textLength="16.4" lengthAdjust="spacingAndGlyphs">17</text>
<path d="M458,778 L470,774" fill="none" stroke="#000" stroke-width="1.1" stroke-linejoin="round" stroke-linecap="round" />
<line x1="420.7" y1="807" x2="418.5" y2="989" stroke="#000" stroke-width="1.1"/>
<path d="M406.8,897.6 L422.3,892.5 L440.8,902.8 L441.8,915.1 L422.3,921.3 L418.1,921.3 L406.8,915.1 Z" fill="#ddd" stroke="#000" stroke-width="2.4" stroke-linejoin="round" stroke-linecap="round" />
<path d="M407.5,898 L418.1,903 L418.1,921.3 M418.1,903 L440,903" fill="none" stroke="#000" stroke-width="1.6" stroke-linejoin="round" stroke-linecap="round" />
<path d="M424,899 L436,905 M424,906 L436,912" fill="none" stroke="#000" stroke-width="1.2" stroke-linejoin="round" stroke-linecap="round" />
<text x="381.1" y="895.6" font-size="17.2" textLength="18.5" lengthAdjust="spacingAndGlyphs">28</text>
<path d="M400.5,889.5 L407.5,896" fill="none" stroke="#000" stroke-width="1.1" stroke-linejoin="round" stroke-linecap="round" />
<path d="M381,888.5 L373,889.5 L366.5,903.8" fill="none" stroke="#000" stroke-width="1.1" stroke-linejoin="round" stroke-linecap="round" />
<path d="M352.3,909 L370.8,903.8 L389.4,916.1 L390.4,925.4 L373.9,934.6 L365.7,936.7 L352.3,926.4 Z" fill="#ccc" stroke="#000" stroke-width="2.4" stroke-linejoin="round" stroke-linecap="round" />
<path d="M358,913 L378,920 M356,919 L380,926 M362,925 L372,929" fill="none" stroke="#000" stroke-width="1.3" stroke-linejoin="round" stroke-linecap="round" />
<path d="M372.5,935 L400.5,957.8 M376.5,933 L403,955" fill="none" stroke="#000" stroke-width="2.2" stroke-linejoin="round" stroke-linecap="round" />
<text x="357.5" y="961.4" font-size="17.2" textLength="16.5" lengthAdjust="spacingAndGlyphs">29</text>
<path d="M375,957.3 L384.2,952" fill="none" stroke="#000" stroke-width="1.1" stroke-linejoin="round" stroke-linecap="round" />
<path d="M429,921.5 L447.5,934.5 L445.5,938 L427.5,925 Z" fill="#bbb" stroke="#000" stroke-width="2.2" stroke-linejoin="round" stroke-linecap="round" />
<text x="450.0" y="925.4" font-size="18.6" textLength="17.5" lengthAdjust="spacingAndGlyphs">30</text>
<path d="M449,919 L443.8,919 L440.8,926.5" fill="none" stroke="#000" stroke-width="1.1" stroke-linejoin="round" stroke-linecap="round" />
<path d="M403.8,954.2 L420.2,949 L430.5,953.1 L426.4,959.3 L425.3,964.5 L406.8,969.6 L403.8,967.5 Z" fill="#fff" stroke="#000" stroke-width="2.4" stroke-linejoin="round" stroke-linecap="round" />
<path d="M404,955 L410,958 L426.4,959.3 M410,958 L410,969 M413,954 Q422,950 429,953" fill="none" stroke="#000" stroke-width="1.6" stroke-linejoin="round" stroke-linecap="round" />
<ellipse cx="422.0" cy="952.0" rx="9.0" ry="4.0" fill="none" stroke="#000" stroke-width="2"/>
<text x="435.6" y="973.7" font-size="17.1" textLength="16.4" lengthAdjust="spacingAndGlyphs">21</text>
<path d="M426.4,964.5 L435.6,966.5 M453,965.5 L459.2,965.5 L459.2,956.3" fill="none" stroke="#000" stroke-width="1.1" stroke-linejoin="round" stroke-linecap="round" />
<line x1="414" y1="966" x2="425" y2="979" stroke="#000" stroke-width="1"/>
<path d="M457.2,940.8 L473.7,934.6 L481.9,938.8 L482.9,944.9 L471.6,954.2 L458.3,954.2 Z" fill="#fff" stroke="#000" stroke-width="2.4" stroke-linejoin="round" stroke-linecap="round" />
<path d="M458,942 L472,945 L481,939 M472,945 L471.6,954.2" fill="none" stroke="#000" stroke-width="1.5" stroke-linejoin="round" stroke-linecap="round" />
<path d="M467.5,954.2 L475.7,954.2 L475.7,970 L467.5,970 Z" fill="#aaa" stroke="#000" stroke-width="2.2" stroke-linejoin="round" stroke-linecap="round" />
<path d="M466.5,970 L476.5,970 L476.5,978 L466.5,978 Z" fill="#ccc" stroke="#000" stroke-width="2.4" stroke-linejoin="round" stroke-linecap="round" />
<path d="M470,936 Q480,932 482,937 Q483,942 476,944" fill="none" stroke="#000" stroke-width="2" stroke-linejoin="round" stroke-linecap="round" />
<text x="483.9" y="985.0" font-size="19.4" textLength="19.6" lengthAdjust="spacingAndGlyphs">42</text>
<path d="M476.5,975 L484,977" fill="none" stroke="#000" stroke-width="1.1" stroke-linejoin="round" stroke-linecap="round" />
<path d="M412,990 L423.7,990 L423.7,1000 L412,1000 Z" fill="#ccc" stroke="#000" stroke-width="2.4" stroke-linejoin="round" stroke-linecap="round" />
<line x1="412" y1="994" x2="423.7" y2="994" stroke="#000" stroke-width="1.4"/>
<text x="381.0" y="996.5" font-size="19.3" textLength="17.3" lengthAdjust="spacingAndGlyphs">53</text>
<path d="M399,989 L406,989 L412,992" fill="none" stroke="#000" stroke-width="1.1" stroke-linejoin="round" stroke-linecap="round" />
<path d="M414.5,1008 L419.5,1008 L419.5,1027 L414.5,1027 Z" fill="#888" stroke="#000" stroke-width="2.2" stroke-linejoin="round" stroke-linecap="round" />
<path d="M410.5,1025 L422.5,1025 L422.5,1033.5 L410.5,1033.5 Z" fill="#ccc" stroke="#000" stroke-width="2.4" stroke-linejoin="round" stroke-linecap="round" />
<text x="381.0" y="1019.6" font-size="19.2" textLength="18.4" lengthAdjust="spacingAndGlyphs">43</text>
<path d="M400,1012 L405,1012 L414,1014" fill="none" stroke="#000" stroke-width="1.1" stroke-linejoin="round" stroke-linecap="round" />
<text x="0" y="0" font-size="17" textLength="38" lengthAdjust="spacingAndGlyphs" transform="translate(671.4,879.4) rotate(-90)">24355</text>
</svg></body></html>
